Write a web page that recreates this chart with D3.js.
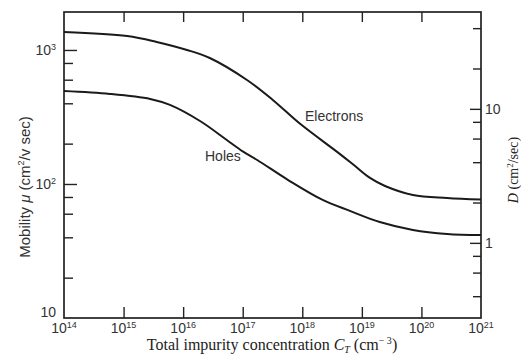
<!DOCTYPE html>
<html>
<head>
<meta charset="utf-8">
<script src="https://cdn.jsdelivr.net/npm/d3@7"></script>
<style>
  body { margin: 0; background: #fff; }
  svg { display: block; }
  .tick line { stroke: #222; stroke-width: 1.4; }
  .domain { display: none; }
</style>
</head>
<body>
<div id="chart"></div>
<script>

// impurity concentration (cm^-3) and mobility (cm^2/v sec)
const electronN  = [1e14, 1.15e15, 3.6e15, 1.16e16, 2.8e16, 1.18e17, 3.2e17, 9.2e17, 4.3e18, 7.7e18, 1.37e19, 2.45e19, 7.2e19, 2.7e20, 1e21];
const electronMu = [1360, 1270, 1148, 1000, 871, 597, 424, 281, 167, 136, 111, 96.6, 82.8, 78.7, 76.6];

const holeN  = [1e14, 5.9e14, 2.8e15, 6e15, 1.92e16, 5.4e16, 1e17, 1.75e17, 5.8e17, 2.2e18, 6.3e18, 2e19, 7.2e19, 2.7e20, 1e21];
const holeMu = [494, 470, 431, 389, 295, 213, 175, 151, 107, 76, 63, 52, 45.4, 42.4, 41.6];

// axis ticks
const nTicks = [1e14, 1e15, 1e16, 1e17, 1e18, 1e19, 1e20, 1e21];
const nExp = ["14", "15", "16", "17", "18", "19", "20", "21"];
const muMajor = [10, 100, 1000];
const muMinor = [20, 40, 60, 80, 200, 400, 600, 800];
const dMajor = [1, 10];
const dMinor = [0.4, 0.6, 0.8, 2, 4, 6, 8, 20, 40];

// D = mu * kT/q
const kTq = 0.0275;

let width = 521, height = 356;
let margin = {top: 12, right: 40, bottom: 38, left: 64};

let svg = d3.select("#chart").append("svg")
    .attr("width", width)
    .attr("height", height);

let x = d3.scaleLog()
    .domain([1e14, 1e21])
    .range([margin.left, width - margin.right]);

let y = d3.scaleLog()
    .domain([10, 1920])
    .range([height - margin.bottom, margin.top]);

let yD = d3.scaleLog()
    .domain([10 * kTq, 1920 * kTq])
    .range([height - margin.bottom, margin.top]);

let x0 = x.range()[0], x1 = x.range()[1];
let yb = y.range()[0], yt = y.range()[1];

// ticks (all pointing inward)
svg.append("g")
    .attr("transform", `translate(0,${yb})`)
    .call(d3.axisBottom(x).tickValues(nTicks.slice(1, -1)).tickSize(-11).tickFormat(""));

svg.append("g")
    .attr("transform", `translate(0,${yt})`)
    .call(d3.axisTop(x).tickValues(nTicks.slice(1, -1)).tickSize(-10).tickFormat(""));

svg.append("g")
    .attr("transform", `translate(${x0},0)`)
    .call(d3.axisLeft(y).tickValues(muMajor.slice(1)).tickSize(-13).tickFormat(""));

svg.append("g")
    .attr("transform", `translate(${x0},0)`)
    .call(d3.axisLeft(y).tickValues(muMinor).tickSize(-9).tickFormat(""));

svg.append("g")
    .attr("transform", `translate(${x1},0)`)
    .call(d3.axisRight(yD).tickValues(dMajor).tickSize(-11).tickFormat(""));

svg.append("g")
    .attr("transform", `translate(${x1},0)`)
    .call(d3.axisRight(yD).tickValues(dMinor).tickSize(-8).tickFormat(""));

// frame
svg.append("rect")
    .attr("x", x0)
    .attr("y", yt)
    .attr("width", x1 - x0)
    .attr("height", yb - yt)
    .attr("fill", "none")
    .attr("stroke", "#222")
    .attr("stroke-width", 1.7);

// curves
let line = d3.line()
    .x(d => x(d[0]))
    .y(d => y(d[1]))
    .curve(d3.curveCatmullRom.alpha(0.5));

svg.append("path")
    .datum(d3.zip(electronN, electronMu))
    .attr("d", line)
    .attr("fill", "none")
    .attr("stroke", "#1a1a1a")
    .attr("stroke-width", 2);

svg.append("path")
    .datum(d3.zip(holeN, holeMu))
    .attr("d", line)
    .attr("fill", "none")
    .attr("stroke", "#1a1a1a")
    .attr("stroke-width", 2);

let sans = "Liberation Sans, Arial, sans-serif";
let serif = "Liberation Serif, Times New Roman, serif";

// curve labels
svg.append("text")
    .attr("x", 305).attr("y", 121)
    .attr("font-family", sans)
    .attr("font-size", 14)
    .attr("fill", "#333")
    .text("Electrons");

svg.append("text")
    .attr("x", 205).attr("y", 161)
    .attr("font-family", sans)
    .attr("font-size", 14)
    .attr("fill", "#333")
    .text("Holes");

// x tick labels  10^n
nTicks.forEach((v, i) => {
    let t = svg.append("text")
        .attr("x", x(v))
        .attr("y", yb + 15)
        .attr("text-anchor", "middle")
        .attr("font-family", sans)
        .attr("font-size", 14)
        .attr("fill", "#333");
    t.append("tspan").text("10");
    t.append("tspan").attr("dy", -5).attr("font-size", 9).text(nExp[i]);
});

// left labels
muMajor.forEach(v => {
    let t = svg.append("text")
        .attr("x", x0 - 8)
        .attr("y", v === 10 ? yb - 1 : y(v) + 5)
        .attr("text-anchor", "end")
        .attr("font-family", sans)
        .attr("font-size", 14)
        .attr("fill", "#333");
    if (v === 10) {
        t.text("10");
    } else {
        t.append("tspan").text("10");
        t.append("tspan").attr("dy", -5).attr("font-size", 9).text(Math.log10(v));
    }
});

// right labels
dMajor.forEach(v => {
    svg.append("text")
        .attr("x", x1 + 4)
        .attr("y", yD(v) + 5)
        .attr("font-family", sans)
        .attr("font-size", 14)
        .attr("fill", "#333")
        .text(v);
});

// axis titles
let xt = svg.append("text")
    .attr("x", 272)
    .attr("y", 350)
    .attr("text-anchor", "middle")
    .attr("font-family", serif)
    .attr("font-size", 16)
    .attr("fill", "#222");
xt.append("tspan").text("Total impurity concentration ");
xt.append("tspan").attr("font-style", "italic").text("C");
xt.append("tspan").attr("font-style", "italic").attr("font-size", 10).attr("dy", 3).text("T");
xt.append("tspan").attr("dy", -3).text(" (cm");
xt.append("tspan").attr("font-size", 10).attr("dy", -6).text("\u2212 3");
xt.append("tspan").attr("dy", 6).text(")");

let yl = svg.append("text")
    .attr("transform", "translate(30,187) rotate(-90)")
    .attr("text-anchor", "middle")
    .attr("font-family", sans)
    .attr("font-size", 15)
    .attr("fill", "#333");
yl.append("tspan").text("Mobility ");
yl.append("tspan").attr("font-style", "italic").text("\u03bc");
yl.append("tspan").text(" (cm");
yl.append("tspan").attr("font-size", 9).attr("dy", -6).text("2");
yl.append("tspan").attr("dy", 6).text("/v sec)");

let yr = svg.append("text")
    .attr("transform", "translate(518,170) rotate(-90)")
    .attr("text-anchor", "middle")
    .attr("font-family", serif)
    .attr("font-size", 14)
    .attr("fill", "#222");
yr.append("tspan").attr("font-style", "italic").text("D");
yr.append("tspan").text(" (cm");
yr.append("tspan").attr("font-size", 9).attr("dy", -5).text("2");
yr.append("tspan").attr("dy", 5).text("/sec)");

</script>
</body>
</html>
